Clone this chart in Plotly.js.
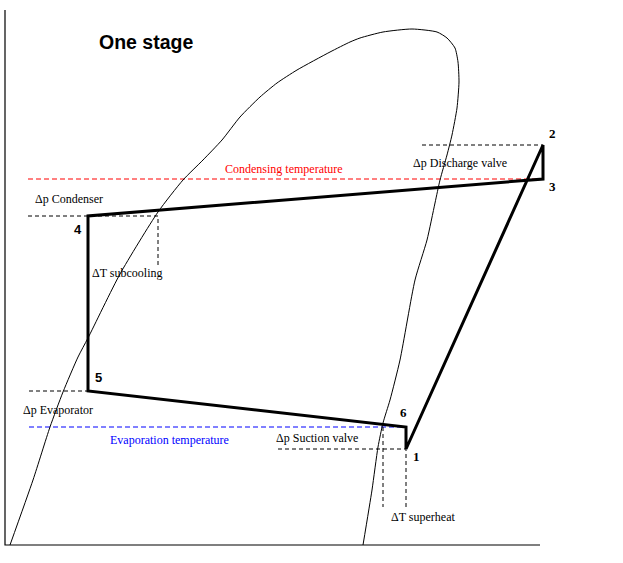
<!DOCTYPE html>
<html>
<head>
<meta charset="utf-8">
<script src="https://cdn.plot.ly/plotly-3.0.1.min.js"></script>
<style>html,body{margin:0;padding:0;background:#fff}#chart{width:623px;height:563px}</style>
</head>
<body>
<div id="chart"></div>
<script>
// Saturation dome (enthalpy h, pressure p; diagram units)
const domeH = [10, 33, 50, 63, 78, 88, 120, 158, 183, 203, 222, 240, 260, 277, 297, 330, 350, 360, 383, 412, 437, 447, 455, 458, 459, 457, 452, 447, 440, 435, 427, 415, 400, 390, 383, 378, 372, 363];
const domeP = [18, 83, 136, 171, 206, 225, 289, 351, 383, 403, 423, 446, 466, 480, 493, 511, 521, 525, 531, 534, 531, 525, 515, 501, 481, 455, 428, 408, 383, 360, 323, 283, 203, 163, 140, 116, 73, 18];

// Cycle points 1 -> 2 -> 3 -> 4 -> 5 -> 6 -> 1
const cycleLabels = ["1", "2", "3", "4", "5", "6", "1"];
const cycleH = [406, 543, 543, 88, 88, 406, 406];
const cycleP = [114, 418, 384, 347, 172, 136, 114];

// Axis frame
const axisH = [5, 5, 540];
const axisP = [553, 18, 18];

// Reference levels
const condTempH = [28, 543];
const condTempP = [384, 384];
const evapTempH = [29, 406];
const evapTempP = [136, 136];

// Helper dashed lines
const helpers = [
  {h: [28, 158, 158], p: [347, 347, 296]},   // Δp condenser / ΔT subcooling
  {h: [29, 88], p: [172, 172]},              // Δp evaporator
  {h: [422, 543], p: [418, 418]},            // Δp discharge valve
  {h: [278, 406, 406], p: [114, 114, 56]},   // Δp suction valve / superheat
  {h: [383, 383], p: [136, 56]}              // ΔT superheat
];

// Text labels
const labelTexts = ["Condensing temperature", "Δp Condenser", "ΔT subcooling", "Δp Evaporator",
  "Evaporation temperature", "Δp Suction valve", "ΔT superheat", "Δp Discharge valve"];
const labelH = [223, 33, 90, 21, 108, 274, 389, 411];
const labelP = [394, 364, 290, 153, 123, 125, 46, 400];
const labelColors = ["#ff0000", "#000", "#000", "#000", "#0000ff", "#000", "#000", "#000"];

const numTexts = ["1", "2", "3", "4", "5", "6"];
const numH = [416, 552, 552, 78, 98, 403];
const numP = [107, 430, 377, 334, 186, 151];
const numSerif = [true, true, true, false, false, true];

const traces = [];
traces.push({x: axisH, y: axisP, mode: "lines", line: {color: "#000", width: 1.2}, hoverinfo: "skip"});
traces.push({x: condTempH, y: condTempP, mode: "lines", line: {color: "#ff0000", width: 1, dash: "5px,3px"}, hoverinfo: "skip"});
traces.push({x: evapTempH, y: evapTempP, mode: "lines", line: {color: "#0000ff", width: 1, dash: "5px,3px"}, hoverinfo: "skip"});
helpers.forEach(hl => traces.push({x: hl.h, y: hl.p, mode: "lines", line: {color: "#000", width: 1, dash: "4px,3px"}, hoverinfo: "skip"}));
traces.push({x: domeH, y: domeP, mode: "lines", line: {color: "#000", width: 1, shape: "spline", smoothing: 0.6}, hoverinfo: "skip"});
traces.push({x: cycleH, y: cycleP, mode: "lines", line: {color: "#000", width: 3}, hoverinfo: "skip", text: cycleLabels});

const annotations = [];
annotations.push({x: 97, y: 521, xref: "x", yref: "y", text: "<b>One stage</b>", showarrow: false,
  xanchor: "left", yanchor: "middle", font: {family: "Liberation Sans, Arial, sans-serif", size: 19.5, color: "#000"}});
labelTexts.forEach((t, i) => annotations.push({x: labelH[i], y: labelP[i], xref: "x", yref: "y", text: t, showarrow: false,
  xanchor: "left", yanchor: "middle", font: {family: "Liberation Serif, Times New Roman, serif", size: 12, color: labelColors[i]}}));
numTexts.forEach((t, i) => annotations.push({x: numH[i], y: numP[i], xref: "x", yref: "y", text: "<b>" + t + "</b>", showarrow: false,
  xanchor: "center", yanchor: "middle",
  font: {family: numSerif[i] ? "Liberation Serif, serif" : "Liberation Sans, sans-serif", size: 13, color: "#000"}}));

const layout = {
  width: 623, height: 563,
  margin: {l: 0, r: 0, t: 0, b: 0, pad: 0},
  paper_bgcolor: "#fff", plot_bgcolor: "#fff",
  showlegend: false,
  xaxis: {range: [0, 623], visible: false, fixedrange: true},
  yaxis: {range: [0, 563], visible: false, fixedrange: true},
  annotations: annotations
};

Plotly.newPlot("chart", traces, layout, {staticPlot: true, displayModeBar: false});
</script>
</body>
</html>
